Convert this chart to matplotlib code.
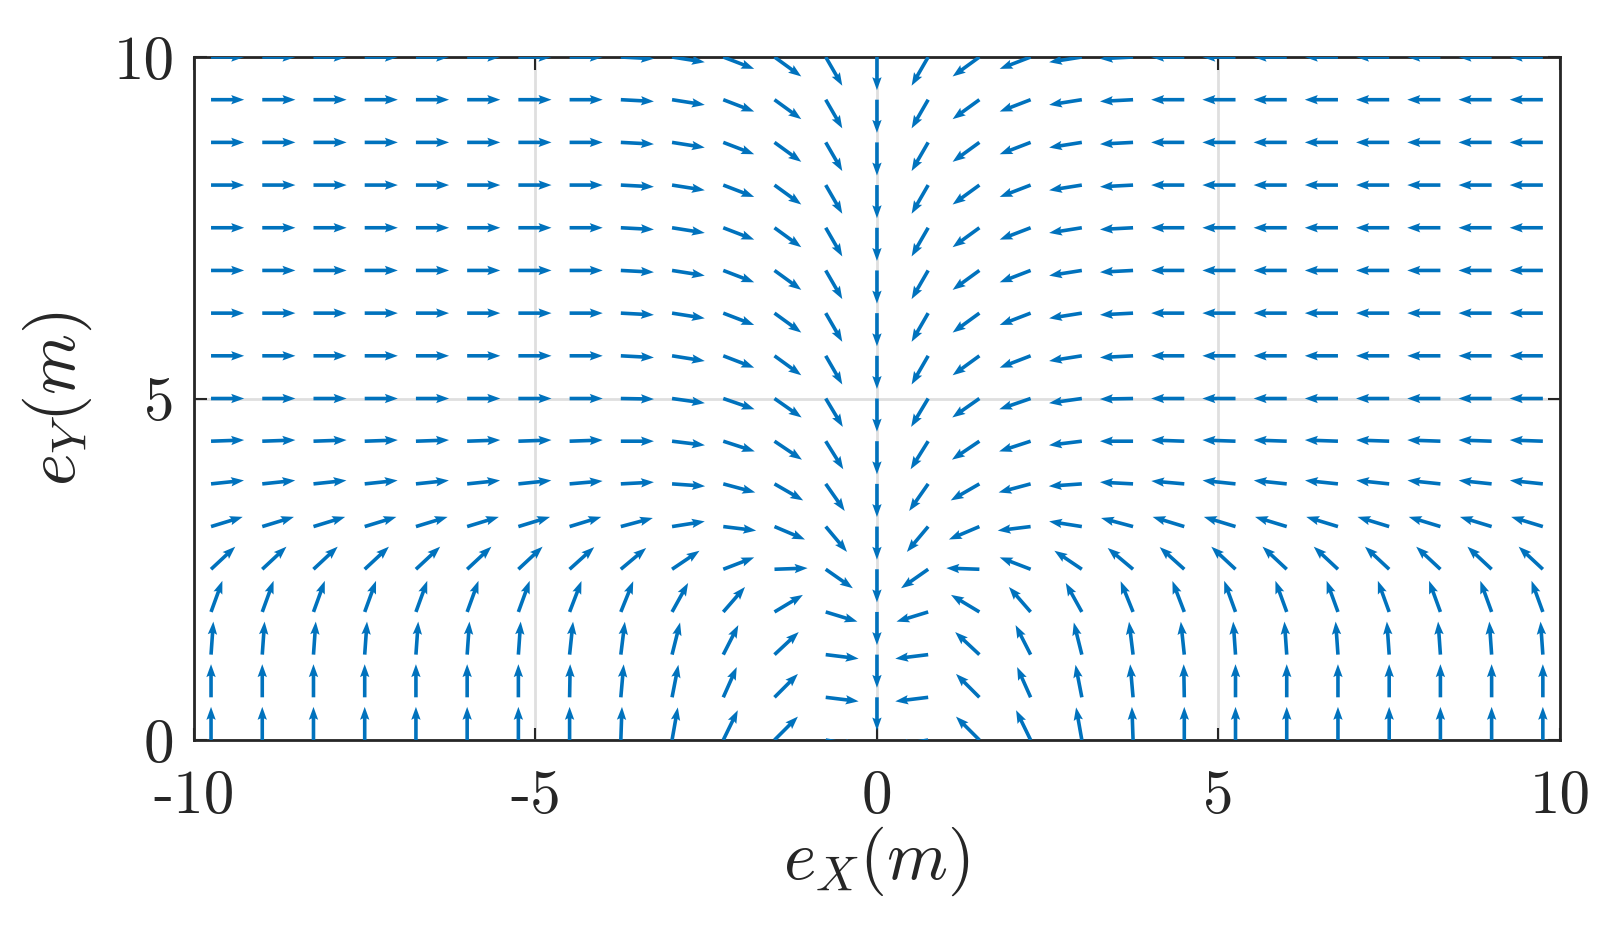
import numpy as np
import matplotlib.pyplot as plt

plt.rcParams['mathtext.fontset'] = 'cm'

# grid of arrow tails
x_pos = np.linspace(-9.75, 9.75, 27)
y_pos = np.linspace(0, 10, 17)

# arrow directions in degrees
# one row per y (bottom to top), columns x = -9.75 ... -0.75 and x = 0
# (the right half of the field is the mirror image of the left half)
ang_left = [
    [90, 90, 90, 90, 90, 90, 90, 90, 88, 80, 64, 45, -10, -90],   # y = 0
    [90, 90, 90, 90, 90, 90, 90, 89, 85, 79, 66, 45, -7, -90],
    [86, 86, 86, 86, 86, 86, 86, 84, 83, 76, 63, 43, -7, -90],
    [70, 70, 70, 70, 70, 70, 70, 69, 68, 61, 49, 31, -17, -90],
    [43, 43, 43, 43, 43, 43, 43, 42, 40, 34, 21, 2, -35, -90],
    [17, 17, 17, 17, 17, 17, 17, 17, 15, 9, -7, -23, -50, -90],
    [6, 6, 6, 6, 6, 6, 6, 5, 3, -4, -15, -30, -55, -90],
    [2, 2, 2, 2, 2, 2, 2, 2, 0, -7, -18, -34, -58, -90],
    [0, 0, 0, 0, 0, 0, 0, 0, -1, -8, -19, -35, -59, -90],          # y = 5
    [0, 0, 0, 0, 0, 0, 0, 0, -3, -9, -21, -36, -60, -90],
    [0, 0, 0, 0, 0, 0, 0, 0, -3, -9, -21, -36, -60, -90],
    [0, 0, 0, 0, 0, 0, 0, 0, -3, -9, -21, -36, -60, -90],
    [0, 0, 0, 0, 0, 0, 0, 0, -3, -9, -21, -36, -60, -90],
    [0, 0, 0, 0, 0, 0, 0, 0, -3, -9, -21, -36, -60, -90],
    [0, 0, 0, 0, 0, 0, 0, 0, -3, -9, -21, -36, -60, -90],
    [0, 0, 0, 0, 0, 0, 0, 0, -3, -9, -21, -36, -60, -90],
    [0, 0, 0, 0, 0, 0, 0, 0, -3, -9, -21, -36, -60, -90],          # y = 10
]

x_ticks = [-10, -5, 0, 5, 10]
x_ticklabels = ['-10', '-5', '0', '5', '10']
y_ticks = [0, 5, 10]
y_ticklabels = ['0', '5', '10']

ang = np.array([row + [180 - a for a in row[-2::-1]] for row in ang_left], dtype=float)
X, Y = np.meshgrid(x_pos, y_pos)
U = np.cos(np.radians(ang))
V = np.sin(np.radians(ang))

fig = plt.figure(figsize=(16.15, 9.3), dpi=100)
ax = fig.add_axes([0.1201, 0.2043, 0.8458, 0.7344])

ax.quiver(X, Y, U, V, angles='xy', scale_units='xy', scale=1 / 0.485,
          units='dots', width=3.6, headwidth=2.6, headlength=3.6, headaxislength=3.2,
          color='#0072BD', zorder=3, pivot='tail')

ax.set_xlim(-10, 10)
ax.set_ylim(0, 10)
ax.set_xticks(x_ticks)
ax.set_yticks(y_ticks)
ax.set_xticklabels(x_ticklabels, fontfamily='cmr10', fontsize=44)
ax.set_yticklabels(y_ticklabels, fontfamily='cmr10', fontsize=44)
ax.grid(True, color='#DFDFDF', linewidth=2.0)
ax.set_axisbelow(True)

for s in ax.spines.values():
    s.set_color('#262626')
    s.set_linewidth(2.0)
ax.tick_params(direction='in', length=9, width=1.5, top=True, right=True,
               colors='#262626')
ax.tick_params(axis='x', pad=21)
ax.tick_params(axis='y', pad=14)

ax.set_xlabel(r'$e_X(m)$', fontsize=50, color='#262626', labelpad=0)
ax.set_ylabel(r'$e_Y(m)$', fontsize=50, color='#262626', labelpad=14)

fig.savefig('out.png', dpi=100)
